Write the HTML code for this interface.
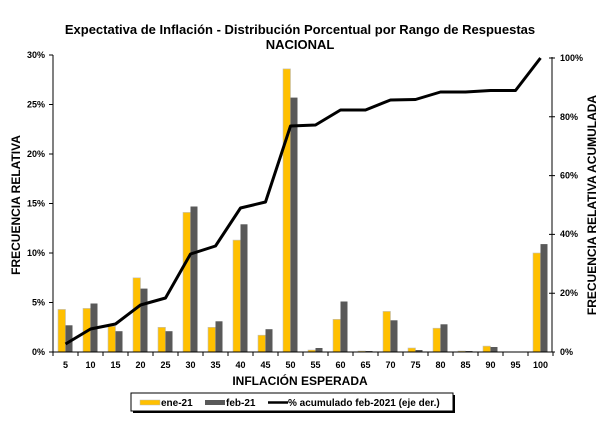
<!DOCTYPE html>
<html><head><meta charset="utf-8"><style>
body{margin:0;background:#fff;}
svg text{font-family:"Liberation Sans",sans-serif;font-weight:bold;}
.y{fill:#FFC000;stroke:#c0c0c0;stroke-width:.6}
.g{fill:#595959}
</style></head><body>
<svg width="610" height="427" xmlns="http://www.w3.org/2000/svg">
<text x="300" y="34" font-size="13" text-anchor="middle">Expectativa de Inflación - Distribución Porcentual por Rango de Respuestas</text>
<text x="300" y="49" font-size="13" text-anchor="middle">NACIONAL</text>
<g>
<rect class="y" x="58" y="309.4" width="7.5" height="42.6"/><rect class="g" x="65.5" y="325.3" width="7" height="26.7"/>
<rect class="y" x="83" y="308.4" width="7.5" height="43.6"/><rect class="g" x="90.5" y="303.5" width="7" height="48.5"/>
<rect class="y" x="108" y="326.3" width="7.5" height="25.7"/><rect class="g" x="115.5" y="331.2" width="7" height="20.8"/>
<rect class="y" x="133" y="277.8" width="7.5" height="74.2"/><rect class="g" x="140.5" y="288.6" width="7" height="63.4"/>
<rect class="y" x="158" y="327.3" width="7.5" height="24.7"/><rect class="g" x="165.5" y="331.2" width="7" height="20.8"/>
<rect class="y" x="183" y="212.4" width="7.5" height="139.6"/><rect class="g" x="190.5" y="206.5" width="7" height="145.5"/>
<rect class="y" x="208" y="327.3" width="7.5" height="24.7"/><rect class="g" x="215.5" y="321.3" width="7" height="30.7"/>
<rect class="y" x="233" y="240.1" width="7.5" height="111.9"/><rect class="g" x="240.5" y="224.3" width="7" height="127.7"/>
<rect class="y" x="258" y="335.2" width="7.5" height="16.8"/><rect class="g" x="265.5" y="329.2" width="7" height="22.8"/>
<rect class="y" x="283" y="68.9" width="7.5" height="283.1"/><rect class="g" x="290.5" y="97.6" width="7" height="254.4"/>
<rect class="y" x="308" y="350" width="7.5" height="2"/><rect class="g" x="315.5" y="348" width="7" height="4"/>
<rect class="y" x="333" y="319.3" width="7.5" height="32.7"/><rect class="g" x="340.5" y="301.5" width="7" height="50.5"/>
<rect class="y" x="358" y="351" width="7.5" height="1"/><rect class="g" x="365.5" y="351" width="7" height="1"/>
<rect class="y" x="383" y="311.4" width="7.5" height="40.6"/><rect class="g" x="390.5" y="320.3" width="7" height="31.7"/>
<rect class="y" x="408" y="348" width="7.5" height="4"/><rect class="g" x="415.5" y="350" width="7" height="2"/>
<rect class="y" x="433" y="328.2" width="7.5" height="23.8"/><rect class="g" x="440.5" y="324.3" width="7" height="27.7"/>
<rect class="y" x="458" y="351" width="7.5" height="1"/><rect class="g" x="465.5" y="351" width="7" height="1"/>
<rect class="y" x="483" y="346.1" width="7.5" height="5.9"/><rect class="g" x="490.5" y="347" width="7" height="5"/>
<rect class="y" x="533" y="253" width="7.5" height="99"/><rect class="g" x="540.5" y="244.1" width="7" height="107.9"/>
</g>
<g stroke="#000">
<line x1="53" y1="55" x2="53" y2="352"/>
<line x1="53" y1="352" x2="553" y2="352"/>
<line x1="552" y1="57" x2="552" y2="352"/>
<path d="M53 352v4M78 352v4M103 352v4M128 352v4M153 352v4M178 352v4M203 352v4M228 352v4M253 352v4M278 352v4M303 352v4M328 352v4M353 352v4M378 352v4M403 352v4M428 352v4M453 352v4M478 352v4M503 352v4M528 352v4M553 352v4"/>
<path d="M49 352h4M49 302.5h4M49 253h4M49 203.5h4M49 154h4M49 104.5h4M49 55h4"/>
<path d="M549 352h6M549 293.2h6M549 234.4h6M549 175.6h6M549 116.8h6M549 58h6"/>
</g>
<g font-size="9" text-anchor="end">
<text x="45" y="355">0%</text><text x="45" y="305.5">5%</text><text x="45" y="256">10%</text><text x="45" y="206.5">15%</text><text x="45" y="157">20%</text><text x="45" y="107.5">25%</text><text x="45" y="58">30%</text>
</g>
<g font-size="9">
<text x="560" y="355">0%</text><text x="560" y="296">20%</text><text x="560" y="237">40%</text><text x="560" y="178.5">60%</text><text x="560" y="120">80%</text><text x="560" y="61">100%</text>
</g>
<g font-size="9" text-anchor="middle">
<text x="65.5" y="368">5</text><text x="90.5" y="368">10</text><text x="115.5" y="368">15</text><text x="140.5" y="368">20</text><text x="165.5" y="368">25</text><text x="190.5" y="368">30</text><text x="215.5" y="368">35</text><text x="240.5" y="368">40</text><text x="265.5" y="368">45</text><text x="290.5" y="368">50</text><text x="315.5" y="368">55</text><text x="340.5" y="368">60</text><text x="365.5" y="368">65</text><text x="390.5" y="368">70</text><text x="415.5" y="368">75</text><text x="440.5" y="368">80</text><text x="465.5" y="368">85</text><text x="490.5" y="368">90</text><text x="515.5" y="368">95</text><text x="540.5" y="368">100</text>
</g>
<polyline fill="none" stroke="#000" stroke-width="3" stroke-linejoin="round" points="65.5,344 90.5,329 115.5,324 140.5,305 165.5,298 190.5,254 215.5,246 240.5,208 265.5,202 290.5,126 315.5,125 340.5,110 365.5,110 390.5,100 415.5,99.5 440.5,92 465.5,92 490.5,90.5 515.5,90.5 540.5,58"/>
<text transform="translate(20,205) rotate(-90)" font-size="12" text-anchor="middle">FRECUENCIA RELATIVA</text>
<text transform="translate(596,205) rotate(-90)" font-size="12" text-anchor="middle">FRECUENCIA RELATIVA ACUMULADA</text>
<text x="300" y="385" font-size="12" text-anchor="middle">INFLACIÓN ESPERADA</text>
<rect x="133" y="395" width="322" height="18" fill="#000"/>
<rect x="131" y="393" width="322" height="18" fill="#fff" stroke="#000"/>
<rect x="140" y="400" width="20" height="5" fill="#FFC000" stroke="#bbb" stroke-width="0.5"/>
<text x="161" y="406" font-size="10">ene-21</text>
<rect x="205" y="400" width="20" height="5" fill="#595959"/>
<text x="226" y="406" font-size="10">feb-21</text>
<line x1="268" y1="402.5" x2="288" y2="402.5" stroke="#000" stroke-width="2.5"/>
<text x="288" y="406" font-size="10">% acumulado feb-2021 (eje der.)</text>
</svg>
</body></html>
